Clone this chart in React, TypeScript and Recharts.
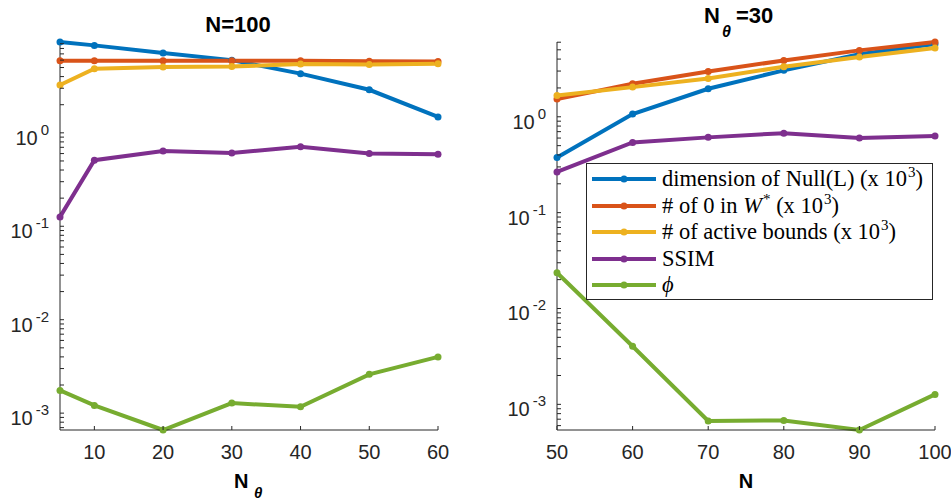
import React from 'react';
import { LineChart, Line, XAxis, YAxis } from 'recharts';

// left panel: N = 100, varying N_theta
const N_THETA = [5, 10, 20, 30, 40, 50, 60];
const L_NULL = [9.38, 8.63, 7.15, 6.0, 4.3, 2.89, 1.48];
const L_ZEROS = [5.9, 5.9, 5.9, 5.9, 5.9, 5.85, 5.8];
const L_ACTIVE = [3.25, 4.85, 5.06, 5.13, 5.45, 5.38, 5.5];
const L_SSIM = [0.126, 0.51, 0.64, 0.61, 0.71, 0.6, 0.59];
const L_PHI = [1.75e-3, 1.21e-3, 6.6e-4, 1.28e-3, 1.17e-3, 2.6e-3, 4.0e-3];

// right panel: N_theta = 30, varying N
const N_VALUES = [50, 60, 70, 80, 90, 100];
const R_NULL = [0.376, 1.07, 1.96, 3.05, 4.5, 5.75];
const R_ZEROS = [1.53, 2.21, 2.97, 3.87, 4.93, 6.03];
const R_ACTIVE = [1.67, 2.04, 2.51, 3.33, 4.2, 5.22];
const R_SSIM = [0.266, 0.54, 0.61, 0.675, 0.6, 0.63];
const R_PHI = [0.0236, 4.04e-3, 6.7e-4, 6.8e-4, 5.4e-4, 1.27e-3];

const LEFT_X_TICKS = [10, 20, 30, 40, 50, 60];
const RIGHT_X_TICKS = [50, 60, 70, 80, 90, 100];
const MAJOR_TICKS = [1e-3, 1e-2, 1e-1, 1];
const MINOR_MULT = [2, 3, 4, 5, 6, 7, 8, 9];
const DECADES = [1e-4, 1e-3, 1e-2, 1e-1, 1];

const SERIES = [
  { key: 'nul', color: '#0072BD' },
  { key: 'zer', color: '#D95319' },
  { key: 'act', color: '#EDB120' },
  { key: 'ssim', color: '#7E2F8E' },
  { key: 'phi', color: '#77AC30' },
];

const AX = '#262626';
const SANS = '"Liberation Sans", Arial, Helvetica, sans-serif';
const SERIF = '"Liberation Serif", "Times New Roman", serif';

function buildRows(xs: number[], cols: number[][]) {
  return xs.map((x, i) => ({
    x,
    nul: cols[0][i],
    zer: cols[1][i],
    act: cols[2][i],
    ssim: cols[3][i],
    phi: cols[4][i],
  }));
}

const leftRows = buildRows(N_THETA, [L_NULL, L_ZEROS, L_ACTIVE, L_SSIM, L_PHI]);
const rightRows = buildRows(N_VALUES, [R_NULL, R_ZEROS, R_ACTIVE, R_SSIM, R_PHI]);

function extent(cols: number[][]): [number, number] {
  const all = cols.flat();
  return [Math.min(...all), Math.max(...all)];
}

const leftDomain = extent([L_NULL, L_ZEROS, L_ACTIVE, L_SSIM, L_PHI]);
const rightDomain = extent([R_NULL, R_ZEROS, R_ACTIVE, R_SSIM, R_PHI]);

function logTicks(dom: [number, number]) {
  const minors: number[] = [];
  DECADES.forEach((d) => MINOR_MULT.forEach((m) => minors.push(m * d)));
  return [...MAJOR_TICKS, ...minors]
    .filter((v) => v >= dom[0] && v <= dom[1])
    .sort((a, b) => a - b);
}

const isMajor = (v: number) => MAJOR_TICKS.some((t) => Math.abs(t - v) / t < 1e-6);

const TL = 4;

function YTickLeft({ x, y, payload }: any) {
  const v = payload.value;
  return (
    <g>
      <line x1={x} y1={y} x2={x + TL} y2={y} stroke={AX} strokeWidth={1} />
      {isMajor(v) && (
        <text x={x - 11} y={y + 12} textAnchor="end" fill={AX} fontSize={20} fontFamily={SANS}>
          10
          <tspan dx={3} dy={-10} fontSize={15}>
            {Math.round(Math.log10(v))}
          </tspan>
        </text>
      )}
    </g>
  );
}

function YTickRight({ x, y }: any) {
  return <line x1={x} y1={y} x2={x - TL} y2={y} stroke={AX} strokeWidth={1} />;
}

function XTickBottom({ x, y, payload }: any) {
  return (
    <g>
      <line x1={x} y1={y} x2={x} y2={y - TL} stroke={AX} strokeWidth={1} />
      <text x={x} y={y + 29} textAnchor="middle" fill={AX} fontSize={20} fontFamily={SANS}>
        {payload.value}
      </text>
    </g>
  );
}

function XTickTop({ x, y }: any) {
  return <line x1={x} y1={y} x2={x} y2={y + TL} stroke={AX} strokeWidth={1} />;
}

function Panel({
  rows,
  xDomain,
  xTicks,
  yDomain,
  width,
  yAxisWidth,
  marginRight,
}: {
  rows: any[];
  xDomain: [number, number];
  xTicks: number[];
  yDomain: [number, number];
  width: number;
  yAxisWidth: number;
  marginRight: number;
}) {
  const yTicks = logTicks(yDomain);
  return (
    <LineChart
      width={width}
      height={502}
      data={rows}
      margin={{ top: 42, right: marginRight, bottom: 0, left: 0 }}
    >
      <XAxis
        xAxisId="b"
        dataKey="x"
        type="number"
        domain={xDomain}
        ticks={xTicks}
        interval={0}
        height={72}
        tickSize={0}
        tickMargin={0}
        tickLine={false}
        axisLine={{ stroke: AX, strokeWidth: 1 }}
        tick={<XTickBottom />}
      />
      <XAxis
        xAxisId="t"
        orientation="top"
        type="number"
        domain={xDomain}
        allowDataOverflow
        ticks={xTicks}
        interval={0}
        height={0}
        tickSize={0}
        tickMargin={0}
        tickLine={false}
        axisLine={{ stroke: AX, strokeWidth: 1 }}
        tick={<XTickTop />}
      />
      <YAxis
        yAxisId="l"
        type="number"
        scale="log"
        domain={yDomain}
        ticks={yTicks}
        interval={0}
        width={yAxisWidth}
        tickSize={0}
        tickMargin={0}
        tickLine={false}
        axisLine={{ stroke: AX, strokeWidth: 1 }}
        tick={<YTickLeft />}
      />
      <YAxis
        yAxisId="r"
        orientation="right"
        type="number"
        scale="log"
        domain={yDomain}
        allowDataOverflow
        ticks={yTicks}
        interval={0}
        width={0}
        tickSize={0}
        tickMargin={0}
        tickLine={false}
        axisLine={{ stroke: AX, strokeWidth: 1 }}
        tick={<YTickRight />}
      />
      {SERIES.map((s) => (
        <Line
          key={s.key}
          xAxisId="b"
          yAxisId="l"
          type="linear"
          dataKey={s.key}
          stroke={s.color}
          strokeWidth={4}
          dot={{ r: 3.5, fill: s.color, stroke: s.color, strokeWidth: 0 }}
          activeDot={false}
          isAnimationActive={false}
        />
      ))}
    </LineChart>
  );
}

const SUP: React.CSSProperties = { fontSize: 15, position: 'relative', top: -9, lineHeight: 0, marginLeft: 1 };

const LEGEND_LABELS = [
  <>dimension of Null(L) (x 10<span style={SUP}>3</span>)</>,
  <># of 0 in <i>W</i><span style={SUP}>*</span> (x 10<span style={SUP}>3</span>)</>,
  <># of active bounds (x 10<span style={SUP}>3</span>)</>,
  <>SSIM</>,
  <i>ϕ</i>,
];

function LegendBox() {
  return (
    <div
      style={{
        position: 'absolute',
        left: 586,
        top: 163,
        width: 347,
        height: 137,
        boxSizing: 'border-box',
        border: `1px solid ${AX}`,
        background: '#fff',
        fontFamily: SERIF,
        fontSize: 22.5,
        color: '#000',
      }}
    >
      {SERIES.map((s, i) => (
        <div
          key={s.key}
          style={{
            position: 'absolute',
            left: 5,
            top: 2 + i * 26.5,
            height: 26.5,
            display: 'flex',
            alignItems: 'center',
            whiteSpace: 'nowrap',
          }}
        >
          <svg width={64} height={10} style={{ marginRight: 6 }}>
            <line x1={0} y1={5} x2={64} y2={5} stroke={s.color} strokeWidth={4} />
            <circle cx={32} cy={5} r={3.5} fill={s.color} />
          </svg>
          <span style={{ lineHeight: '26px' }}>{LEGEND_LABELS[i]}</span>
        </div>
      ))}
    </div>
  );
}

export default function App() {
  return (
    <div style={{ position: 'absolute', left: 0, top: 0, width: 951, height: 502, background: '#fff' }}>
      <div style={{ position: 'absolute', left: 0, top: 0 }}>
        <Panel
          rows={leftRows}
          xDomain={[5, 60]}
          xTicks={LEFT_X_TICKS}
          yDomain={leftDomain}
          width={470}
          yAxisWidth={60}
          marginRight={32}
        />
      </div>
      <div style={{ position: 'absolute', left: 470, top: 0 }}>
        <Panel
          rows={rightRows}
          xDomain={[50, 100]}
          xTicks={RIGHT_X_TICKS}
          yDomain={rightDomain}
          width={481}
          yAxisWidth={87}
          marginRight={16}
        />
      </div>
      <svg
        width={951}
        height={502}
        style={{ position: 'absolute', left: 0, top: 0, pointerEvents: 'none' }}
        fontFamily={SANS}
        fill="#000"
      >
        <text x={238} y={32} textAnchor="middle" fontWeight="bold" fontSize={22}>
          N=100
        </text>
        <text x={704} y={23} fontWeight="bold" fontSize={22}>
          N
          <tspan x={722} y={37} fontSize={16} fontStyle="italic">
            θ
          </tspan>
          <tspan x={736} y={23}>
            =30
          </tspan>
        </text>
        <text x={234} y={488} fontWeight="bold" fontSize={20}>
          N
          <tspan x={254} y={498} fontSize={15} fontStyle="italic">
            θ
          </tspan>
        </text>
        <text x={746} y={488} textAnchor="middle" fontWeight="bold" fontSize={20}>
          N
        </text>
      </svg>
      <LegendBox />
    </div>
  );
}
